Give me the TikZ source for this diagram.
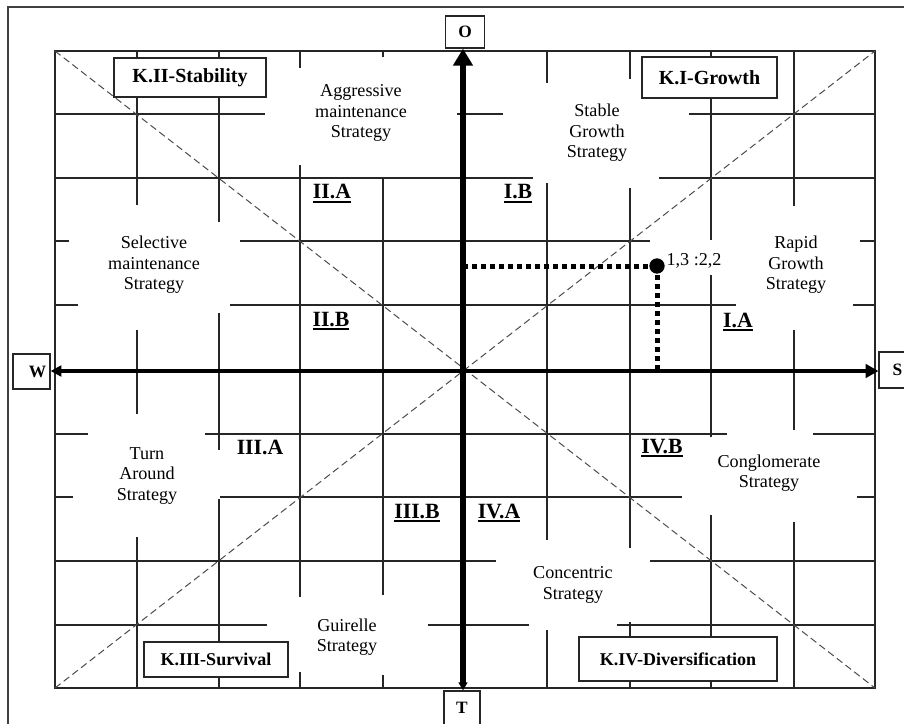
\documentclass[tikz,border=0pt]{standalone}
\usepackage{fontspec}
\setmainfont{Liberation Serif}
\usetikzlibrary{arrows.meta}
\newcommand{\ulbold}[1]{\vtop{\hbox{#1}\kern1.6pt\hrule height 1.5pt}}
\begin{document}
\begin{tikzpicture}[x=0.75pt,y=-0.75pt,
  gridline/.style={line width=0.8pt, draw=black!85},
  diagline/.style={line width=0.75pt, draw=black!70, dash pattern=on 5.25pt off 3pt},
  framebox/.style={line width=1pt, draw=black!75},
  kbox/.style 2 args={draw=black!85, line width=1pt, fill=white, minimum width=#1*0.75pt, minimum height=#2*0.75pt, inner sep=0pt},
  kfont/.style={font=\bfseries\fontsize{#1}{#1}\selectfont},
  axbox/.style 2 args={draw=black!85, line width=0.9pt, fill=white, minimum width=#1*0.75pt, minimum height=#2*0.75pt, inner sep=0pt, font=\bfseries\fontsize{13}{13}\selectfont},
  strat/.style={align=center, inner sep=0pt, font=\fontsize{13.6}{15.4}\selectfont},
  reg/.style={anchor=base, inner sep=0pt, font=\bfseries\fontsize{16.3}{18}\selectfont},
  axisv/.style={line width=3.9pt},
  axish/.style={line width=3.5pt},
  dotline/.style={line width=3.75pt, dash pattern=on 3.75pt off 3pt},
]
\useasboundingbox (0,0) rectangle (904,724);
\clip (0,0) rectangle (904,724);

% outer frame
\draw[framebox] (8,7) rectangle (940,760);

% grid outer border
\draw[gridline] (55,51) rectangle (875,688);

% horizontal grid segments
\draw[gridline] (55,114) -- (265,114) (457,114) -- (503,114) (689,114) -- (875,114);
\draw[gridline] (55,178) -- (533,178) (659,178) -- (875,178);
\draw[gridline] (55,241) -- (69,241) (240,241) -- (650,241) (860,241) -- (875,241);
\draw[gridline] (55,305) -- (78,305) (230,305) -- (736,305) (853,305) -- (875,305);
\draw[gridline] (55,434) -- (88,434) (205,434) -- (727,434) (813,434) -- (875,434);
\draw[gridline] (55,497) -- (73,497) (220,497) -- (682,497) (857,497) -- (875,497);
\draw[gridline] (55,561) -- (496,561) (650,561) -- (875,561);
\draw[gridline] (55,625) -- (267,625) (428,625) -- (529,625) (617,625) -- (875,625);

% vertical grid segments
\draw[gridline] (137,51) -- (137,205) (137,330) -- (137,414) (137,537) -- (137,688);
\draw[gridline] (219,51) -- (219,222) (219,313) -- (219,450) (219,499) -- (219,688);
\draw[gridline] (300,51) -- (300,68) (300,165) -- (300,597) (300,672) -- (300,688);
\draw[gridline] (383,51) -- (383,57) (383,177) -- (383,595) (383,675) -- (383,688);
\draw[gridline] (547,51) -- (547,83) (547,183) -- (547,540) (547,630) -- (547,688);
\draw[gridline] (630,51) -- (630,79) (630,188) -- (630,548) (630,622) -- (630,688);
\draw[gridline] (711,51) -- (711,240) (711,275) -- (711,437) (711,515) -- (711,688);
\draw[gridline] (794,51) -- (794,206) (794,330) -- (794,430) (794,522) -- (794,688);

% diagonals
\draw[diagline] (55,51) -- (875,688);
\draw[diagline] (55,688) -- (875,51);

% axis boxes
\node[axbox={39}{32}] (O) at (465,32) {O};
\node[axbox={36}{34}] (T) at (462,708) {T};
\node[axbox={37}{35}] (W) at (31.5,371.5) {\hspace*{9pt}W};
\node[axbox={37}{36}] (S) at (897.5,370) {S};
\coordinate (ctr) at (463,371);

% axes
\draw[axisv, {Triangle[length=6pt,width=6.5pt]}-{Triangle[length=12.75pt,width=14.25pt]}]
  (T.north -| ctr) -- (O.south -| ctr);
\draw[axish, {Triangle[length=8pt,width=8pt]}-{Triangle[length=9.5pt,width=10pt]}]
  (W.east |- ctr) -- (S.west |- ctr);

% point
\node[circle, fill=black, minimum size=11.5pt, inner sep=0pt] (pt) at (657,266) {};
\draw[dotline] (pt.center) -- (pt.center -| ctr);
\draw[dotline] (pt.center) -- (pt.center |- ctr);
\node[inner sep=0pt, font=\fontsize{13.6}{15}\selectfont] (ptlab) at (694,261) {1,3 :2,2};

% K boxes
\node[kbox={152}{39}, kfont=15] (k2) at (190,77.5) {K.II-Stability};
\node[kbox={135}{41}, kfont=15] (k1) at (709.5,77.5) {K.I-Growth};
\node[kbox={144}{35}, kfont=13.5] (k3) at (216,659.5) {K.III-Survival};
\node[kbox={198}{44}, kfont=13.5] (k4) at (678,659) {K.IV-Diversification};

% strategy texts
\node[strat] (agg) at (361,113) {Aggressive\\maintenance\\Strategy};
\node[strat] (stab) at (597,133) {Stable\\Growth\\Strategy};
\node[strat] (sel) at (154,265) {Selective\\maintenance\\Strategy};
\node[strat] (rap) at (796,265) {Rapid\\Growth\\Strategy};
\node[strat] (turn) at (147,476) {Turn\\Around\\Strategy};
\node[strat] (cong) at (769,473) {Conglomerate\\Strategy};
\node[strat] (conc) at (573,585) {Concentric\\Strategy};
\node[strat] (guir) at (347,637) {Guirelle\\Strategy};

% region labels
\node[reg] (r2a) at (332,199) {\ulbold{II.A}};
\node[reg] (r1b) at (518,199) {\ulbold{I.B}};
\node[reg] (r2b) at (331,326) {\ulbold{II.B}};
\node[reg] (r1a) at (738,327) {\ulbold{I.A}};
\node[reg] (r3a) at (260,454) {III.A};
\node[reg] (r4b) at (662,453) {\ulbold{IV.B}};
\node[reg] (r3b) at (417,518) {\ulbold{III.B}};
\node[reg] (r4a) at (499,518) {\ulbold{IV.A}};
\end{tikzpicture}
\end{document}
